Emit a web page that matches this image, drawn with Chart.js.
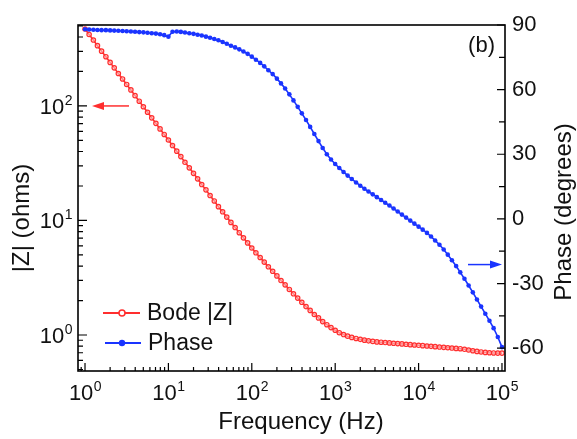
<!DOCTYPE html>
<html lang="en">
<head>
<meta charset="UTF-8" />
<title>Bode |Z| and Phase</title>
<script src="https://cdn.jsdelivr.net/npm/chart.js"></script>
<style>
  body { margin: 0; background: #fff; }
  canvas { display: block; }
</style>
</head>
<body>
<canvas id="chart" width="577" height="439"></canvas>
<script>
// frequency points (Hz), 20 per decade
const freq = [
  1, 1.12, 1.26, 1.41, 1.58, 1.78, 2.00, 2.24, 2.51, 2.82, 3.16, 3.55, 3.98, 4.47, 5.01, 5.62, 6.31, 7.08, 7.94, 8.91,
  10, 11.2, 12.6, 14.1, 15.8, 17.8, 20.0, 22.4, 25.1, 28.2, 31.6, 35.5, 39.8, 44.7, 50.1, 56.2, 63.1, 70.8, 79.4, 89.1,
  100, 112, 126, 141, 158, 178, 200, 224, 251, 282, 316, 355, 398, 447, 501, 562, 631, 708, 794, 891,
  1000, 1120, 1260, 1410, 1580, 1780, 2000, 2240, 2510, 2820, 3160, 3550, 3980, 4470, 5010, 5620, 6310, 7080, 7940, 8910,
  10000, 11200, 12600, 14100, 15800, 17800, 20000, 22400, 25100, 28200, 31600, 35500, 39800, 44700, 50100, 56200, 63100, 70800, 79400, 89100,
  100000
];

// |Z| in ohms
const bodeZ = [
  470, 421, 376, 336, 301, 269, 240, 215, 192, 172,
  154, 138, 123, 110, 98.4, 88.1, 78.7, 70.5, 63.0, 56.4,
  50.4, 45.1, 40.3, 36.1, 32.2, 28.8, 25.8, 23.1, 20.6, 18.5,
  16.5, 14.8, 13.2, 11.9, 10.7, 9.62, 8.67, 7.82, 7.05, 6.37,
  5.75, 5.22, 4.75, 4.33, 3.94, 3.60, 3.28, 2.99, 2.74, 2.50,
  2.29, 2.10, 1.93, 1.77, 1.64, 1.51, 1.41, 1.31, 1.23, 1.16,
  1.10, 1.047, 1.009, 0.977, 0.953, 0.933, 0.916, 0.902, 0.889, 0.879,
  0.871, 0.865, 0.859, 0.853, 0.847, 0.841, 0.836, 0.830, 0.824, 0.818,
  0.813, 0.807, 0.802, 0.796, 0.791, 0.785, 0.780, 0.774, 0.769, 0.764,
  0.759, 0.750, 0.740, 0.729, 0.719, 0.711, 0.705, 0.700, 0.697, 0.695,
  0.695
];

// phase in degrees
const phase = [
  88.0, 87.9, 87.8, 87.7, 87.6, 87.6, 87.5, 87.4, 87.3, 87.2,
  87.1, 87.0, 86.9, 86.7, 86.6, 86.4, 86.2, 86.0, 85.7, 85.3,
  84.6, 86.9, 87.0, 86.8, 86.5, 86.2, 85.9, 85.5, 85.1, 84.6,
  84.1, 83.5, 82.9, 82.1, 81.3, 80.4, 79.6, 78.7, 77.7, 76.6,
  75.3, 73.9, 72.4, 70.8, 69.0, 67.2, 65.1, 62.9, 60.5, 57.8,
  55.0, 52.0, 49.0, 45.9, 42.7, 39.4, 36.1, 32.9, 30.0, 27.6,
  25.5, 23.6, 21.8, 20.1, 18.5, 16.9, 15.4, 14.0, 12.7, 11.4,
  10.1, 8.8, 7.5, 6.2, 4.8, 3.4, 2.0, 0.6, -0.8, -2.2,
  -3.6, -5.0, -6.5, -8.2, -10.0, -12.0, -14.2, -16.6, -19.2, -21.9,
  -24.8, -27.8, -30.9, -34.1, -37.4, -40.7, -44.0, -47.3, -50.7, -54.8,
  -59.5
];

const xTickExps = [0, 1, 2, 3, 4, 5];
const zTickExps = [0, 1, 2];
const phaseTicks = [90, 60, 30, 0, -30, -60];

const RED = '#ff2e2e';
const BLUE = '#1a34ff';
const FONT = '"Liberation Sans", Arial, sans-serif';

// draws "10" with a raised exponent
function drawPow(ctx, exp, x, base, align) {
  ctx.font = '22px ' + FONT;
  const w1 = ctx.measureText('10').width;
  ctx.font = '14px ' + FONT;
  const w2 = ctx.measureText(String(exp)).width;
  let start = align === 'right' ? x - w1 - w2 : x - (w1 + w2) / 2;
  ctx.textAlign = 'left';
  ctx.textBaseline = 'alphabetic';
  ctx.font = '22px ' + FONT;
  ctx.fillText('10', start, base);
  ctx.font = '14px ' + FONT;
  ctx.fillText(String(exp), start + w1 + 0.5, base - 9);
}

function arrow(ctx, x1, x2, y, color) {
  const dir = Math.sign(x2 - x1);
  ctx.strokeStyle = color;
  ctx.fillStyle = color;
  ctx.lineWidth = 1.5;
  ctx.beginPath();
  ctx.moveTo(x1, y);
  ctx.lineTo(x2 - dir * 8, y);
  ctx.stroke();
  ctx.beginPath();
  ctx.moveTo(x2, y);
  ctx.lineTo(x2 - dir * 12, y - 4);
  ctx.lineTo(x2 - dir * 12, y + 4);
  ctx.closePath();
  ctx.fill();
}

const decorations = {
  id: 'decorations',
  afterDraw(chart) {
    const ctx = chart.ctx;
    const a = chart.chartArea;
    const sx = chart.scales.x, sy = chart.scales.y, sy2 = chart.scales.y2;
    ctx.save();
    ctx.strokeStyle = '#000';
    ctx.fillStyle = '#111';

    // inward ticks
    ctx.lineWidth = 1.2;
    ctx.beginPath();
    for (let d = -1; d <= 5; d++) {
      for (let m = 1; m <= 9; m++) {
        const v = m * Math.pow(10, d);
        if (v < sx.min || v > sx.max) continue;
        const px = sx.getPixelForValue(v);
        ctx.moveTo(px, a.bottom);
        ctx.lineTo(px, a.bottom - (m === 1 ? 8 : 4));
      }
    }
    for (let d = -1; d <= 2; d++) {
      for (let m = 1; m <= 9; m++) {
        const v = m * Math.pow(10, d);
        if (v < sy.min || v > sy.max) continue;
        const py = sy.getPixelForValue(v);
        ctx.moveTo(a.left, py);
        ctx.lineTo(a.left + (m === 1 ? 9 : 5), py);
      }
    }
    for (let v = -60; v <= 90; v += 15) {
      const py = sy2.getPixelForValue(v);
      ctx.moveTo(a.right, py);
      ctx.lineTo(a.right - (v % 30 === 0 ? 8 : 6), py);
    }
    ctx.stroke();

    // frame
    ctx.lineWidth = 1.6;
    ctx.strokeRect(a.left, a.top, a.right - a.left, a.bottom - a.top);

    // tick labels
    xTickExps.forEach(e => drawPow(ctx, e, sx.getPixelForValue(Math.pow(10, e)), 400, 'center'));
    zTickExps.forEach(e => drawPow(ctx, e, 72, sy.getPixelForValue(Math.pow(10, e)) + 8, 'right'));
    ctx.font = '22px ' + FONT;
    ctx.textAlign = 'left';
    ctx.textBaseline = 'middle';
    phaseTicks.forEach(v => ctx.fillText(String(v), 512, sy2.getPixelForValue(v)));

    // axis titles
    ctx.font = '24px ' + FONT;
    ctx.textAlign = 'center';
    ctx.fillText('Frequency (Hz)', 301, 422);
    ctx.save();
    ctx.translate(22, 218);
    ctx.rotate(-Math.PI / 2);
    ctx.fillText('|Z| (ohms)', 0, 0);
    ctx.restore();
    ctx.save();
    ctx.translate(564, 212);
    ctx.rotate(-Math.PI / 2);
    ctx.fillText('Phase (degrees)', 0, 0);
    ctx.restore();

    // panel label
    ctx.font = '22px ' + FONT;
    ctx.textAlign = 'right';
    ctx.textBaseline = 'alphabetic';
    ctx.fillText('(b)', 495, 52);

    // legend
    ctx.lineWidth = 2;
    ctx.strokeStyle = RED;
    ctx.beginPath(); ctx.moveTo(103, 313); ctx.lineTo(140, 313); ctx.stroke();
    ctx.fillStyle = '#fff';
    ctx.lineWidth = 1.5;
    ctx.beginPath(); ctx.arc(122, 313, 3, 0, Math.PI * 2); ctx.fill(); ctx.stroke();
    ctx.lineWidth = 2;
    ctx.strokeStyle = BLUE;
    ctx.fillStyle = BLUE;
    ctx.beginPath(); ctx.moveTo(105, 343); ctx.lineTo(141, 343); ctx.stroke();
    ctx.beginPath(); ctx.arc(122, 343, 3.2, 0, Math.PI * 2); ctx.fill();
    ctx.fillStyle = '#111';
    ctx.font = '23px ' + FONT;
    ctx.textAlign = 'left';
    ctx.textBaseline = 'middle';
    ctx.fillText('Bode |Z|', 147, 314);
    ctx.fillText('Phase', 148, 344);

    // arrows pointing to each series' axis
    arrow(ctx, 129, 92, sy.getPixelForValue(100), RED);
    arrow(ctx, 468, 502, sy2.getPixelForValue(-21.2), BLUE);
    ctx.restore();
  }
};

new Chart(document.getElementById('chart'), {
  type: 'line',
  data: {
    datasets: [
      {
        label: 'Bode |Z|',
        data: freq.map((f, i) => ({ x: f, y: bodeZ[i] })),
        yAxisID: 'y',
        borderColor: RED,
        borderWidth: 1.6,
        pointRadius: 2.2,
        pointBorderWidth: 1.2,
        pointBorderColor: RED,
        pointBackgroundColor: 'rgba(255,200,200,0.6)',
        order: 1
      },
      {
        label: 'Phase',
        data: freq.map((f, i) => ({ x: f, y: phase[i] })),
        yAxisID: 'y2',
        borderColor: BLUE,
        borderWidth: 1.6,
        pointRadius: 2.3,
        pointBorderWidth: 0,
        pointBackgroundColor: BLUE,
        order: 0
      }
    ]
  },
  options: {
    responsive: false,
    animation: false,
    devicePixelRatio: 1,
    layout: { padding: { left: 78, right: 72, top: 25, bottom: 68 } },
    plugins: { legend: { display: false }, tooltip: { enabled: false } },
    scales: {
      x: { type: 'logarithmic', min: 0.824, max: 108700, display: false },
      y: { type: 'logarithmic', min: 0.485, max: 509, display: false },
      y2: { type: 'linear', position: 'right', min: -70.6, max: 90, display: false }
    }
  },
  plugins: [decorations]
});
</script>
</body>
</html>
